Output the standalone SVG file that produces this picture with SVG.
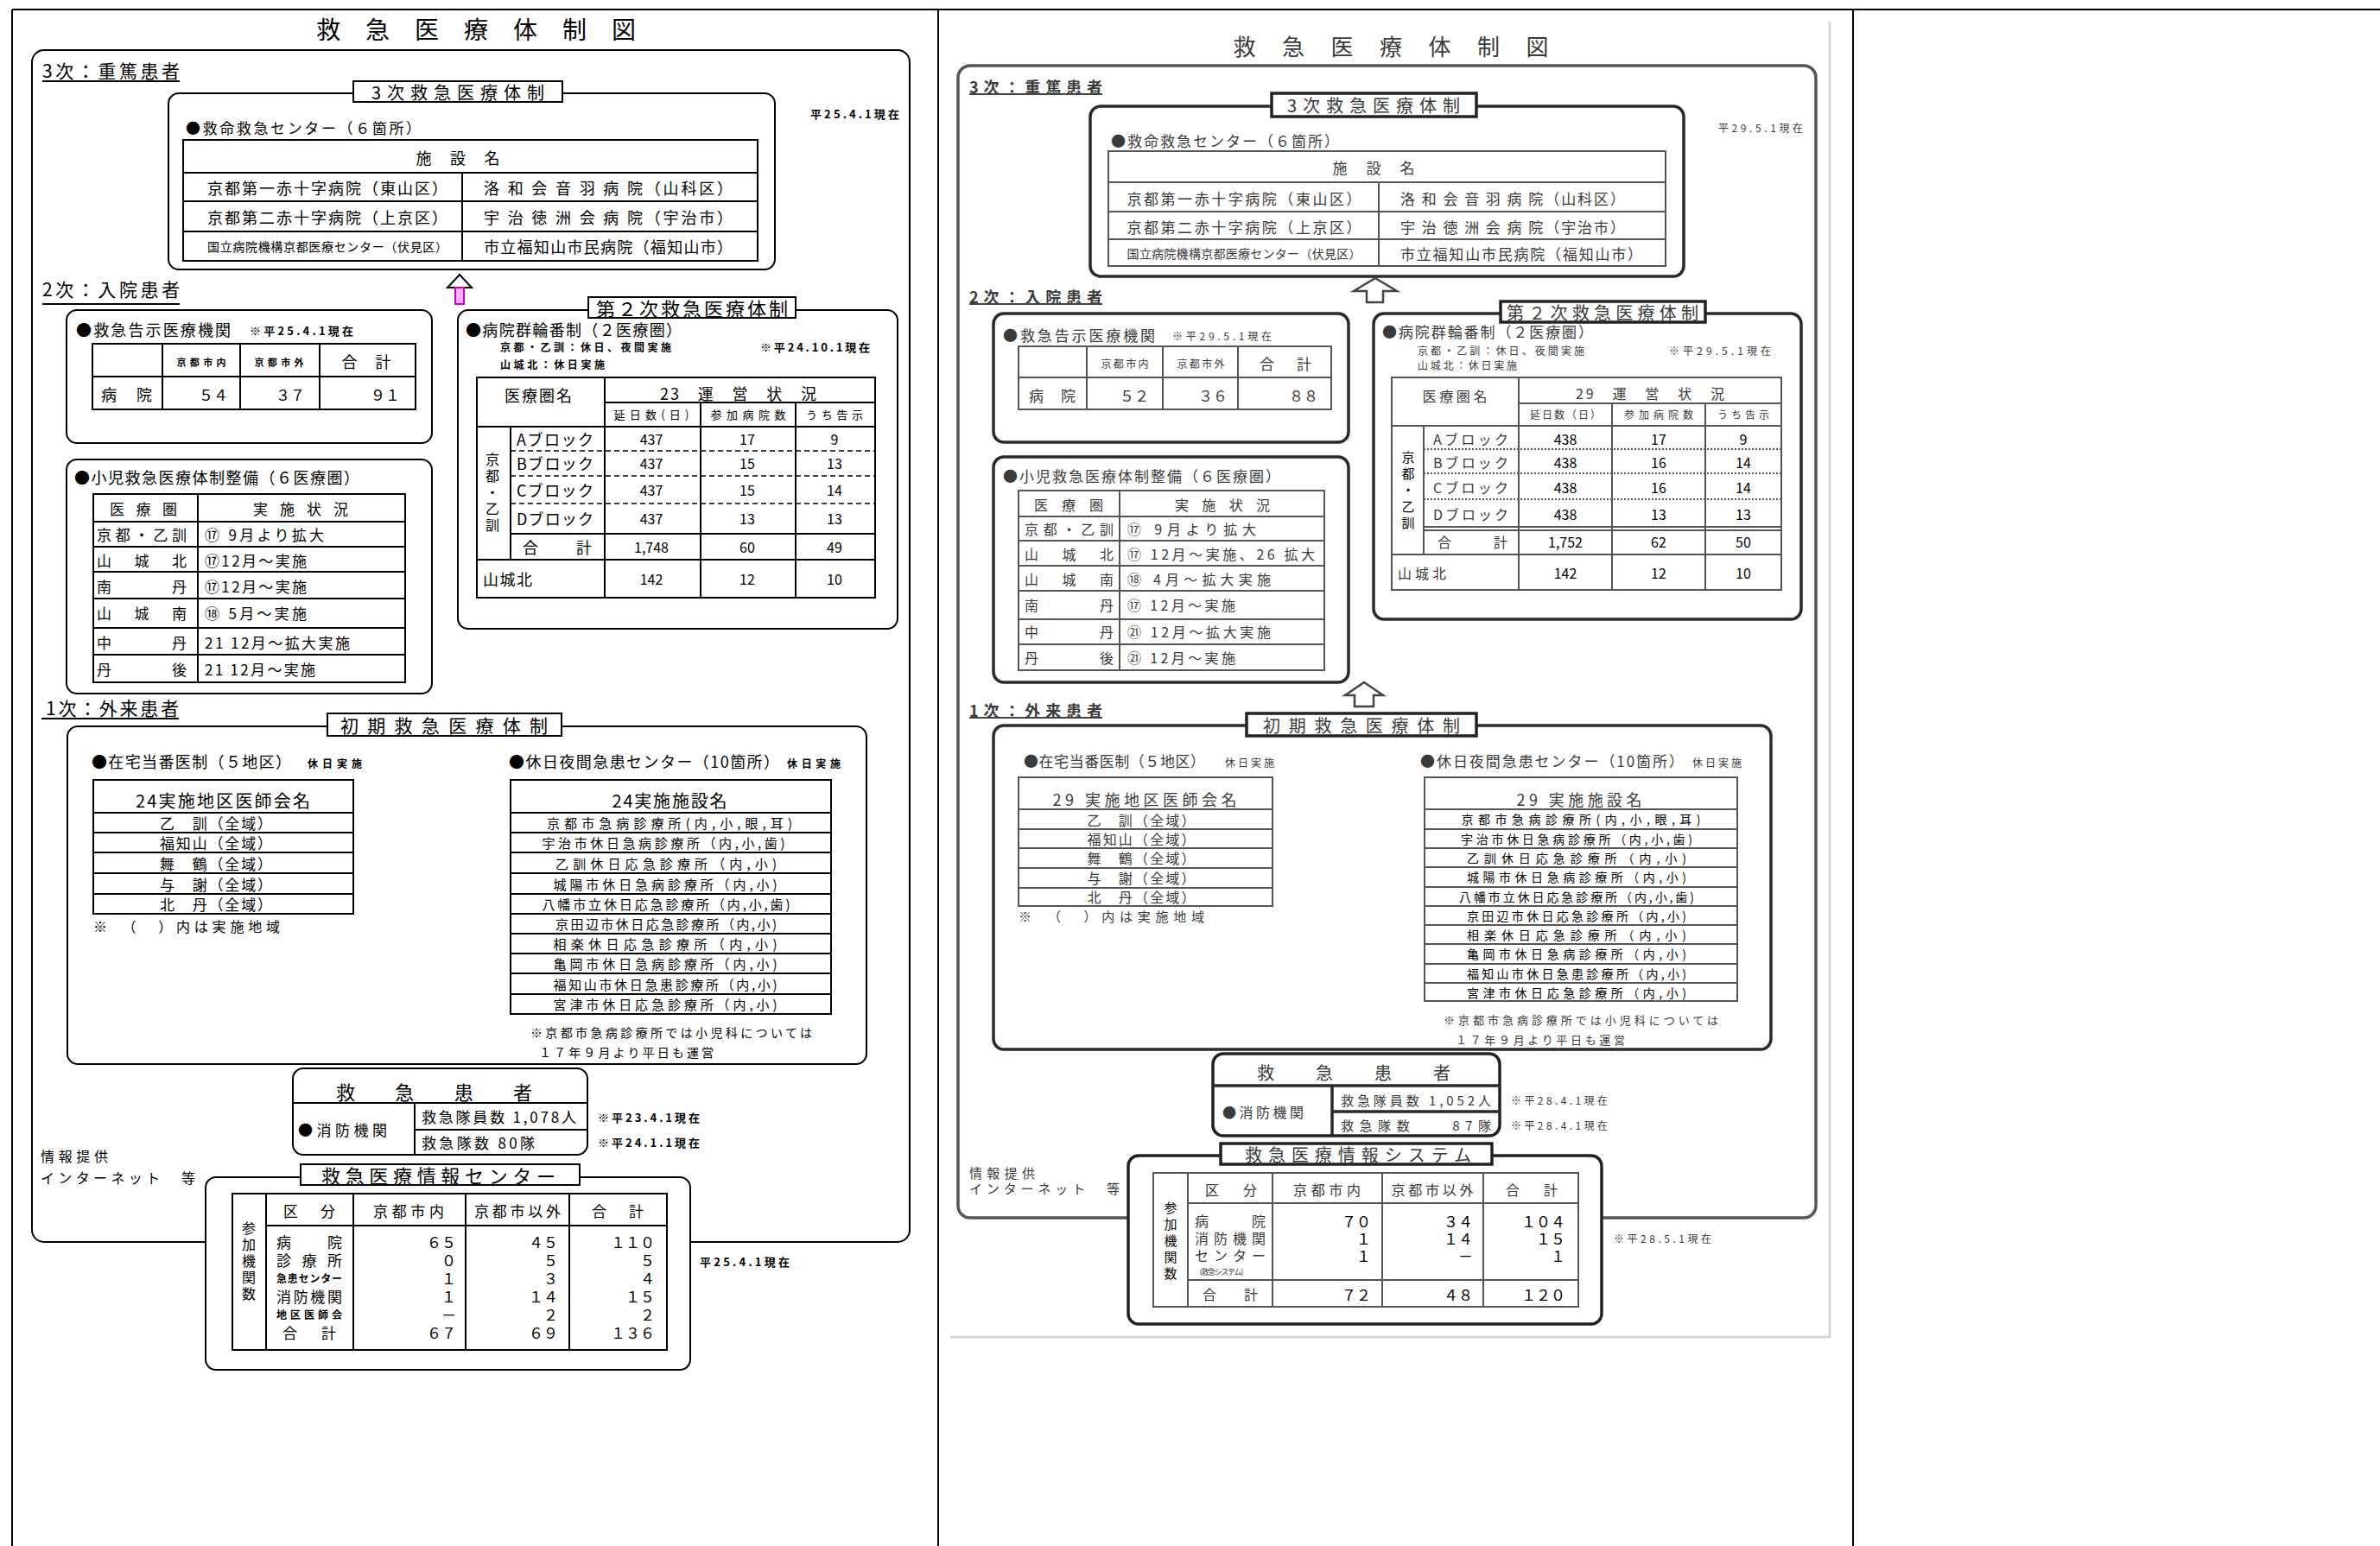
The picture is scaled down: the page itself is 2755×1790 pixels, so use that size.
<svg xmlns="http://www.w3.org/2000/svg" width="2755" height="1790" viewBox="0 0 2755 1790">
<style>
text{font-family:"Noto Sans CJK JP","Noto Sans",sans-serif;dominant-baseline:central;fill:#000}
.s{fill:#3a3a3a}
.b{font-weight:700}
.mid{text-anchor:middle}
.end{text-anchor:end}
.ln{stroke:#000;stroke-width:2;fill:none}
.fr{stroke:#000;stroke-width:2;fill:none}
.fw{fill:#fff;stroke:#000;stroke-width:2}
.dash{stroke:#000;stroke-width:1.5;stroke-dasharray:6 4;fill:none}
.sl{stroke:#555;stroke-width:2;fill:none}
.sf{stroke:#2a2a2a;stroke-width:3.5;fill:none}
.sfw{fill:#fff;stroke:#222;stroke-width:3.5}
.dot{stroke:#555;stroke-width:2;stroke-dasharray:2 2;fill:none}
</style>

<g id="page-grid" class="ln">
<line x1="14" y1="11" x2="2755" y2="11"/>
<line x1="14" y1="11" x2="14" y2="1790"/>
<line x1="1086" y1="11" x2="1086" y2="1790"/>
<line x1="2145" y1="11" x2="2145" y2="1790"/>
</g>

<!-- ================= LEFT PANEL ================= -->
<g id="left-title"><text x="551" y="33" class="mid" font-size="28" textLength="370">救　急　医　療　体　制　図</text></g>
<g id="left-outer-frame"><rect x="37" y="58" width="1016" height="1380" rx="14" class="fr"/></g>

<g id="left-tier3">
<text x="49" y="81" font-size="21" textLength="159">3次：重篤患者</text>
<line x1="49" y1="94" x2="208" y2="94" class="ln"/>
<rect x="195" y="108" width="702" height="204" rx="12" class="fr"/>
<rect x="409" y="94" width="242" height="24" class="fw"/>
<text x="530" y="106" class="mid" font-size="20" textLength="200">3次救急医療体制</text>
<text x="938" y="131" font-size="13" class="b" textLength="103">平25.4.1現在</text>
<text x="215" y="147" font-size="17" textLength="272">●救命救急センター（６箇所）</text>
<rect x="212" y="162" width="665" height="140" class="fr"/>
<path d="M212 200H877M212 233H877M212 268H877M535 200V302" class="ln"/>
<text x="530" y="182" class="mid" font-size="18" textLength="97">施　設　名</text>
<text x="240" y="217" font-size="18" textLength="278">京都第一赤十字病院（東山区）</text>
<text x="240" y="251" font-size="18" textLength="278">京都第二赤十字病院（上京区）</text>
<text x="240" y="285" font-size="14" textLength="278">国立病院機構京都医療センター（伏見区）</text>
<text x="560" y="217" font-size="18" textLength="288">洛 和 会 音 羽 病 院（山科区）</text>
<text x="560" y="251" font-size="18" textLength="288">宇 治 徳 洲 会 病 院（宇治市）</text>
<text x="560" y="285" font-size="18" textLength="288">市立福知山市民病院（福知山市）</text>
</g>

<g id="left-tier2-label">
<text x="49" y="334" font-size="21" textLength="159">2次：入院患者</text>
<line x1="49" y1="352" x2="208" y2="352" class="ln"/>
</g>

<g id="left-kokuji">
<rect x="77" y="359" width="423" height="154" rx="12" class="fr"/>
<text x="88" y="381" font-size="18" textLength="179">●救急告示医療機関</text>
<text x="289" y="382" font-size="13" class="b" textLength="120">※平25.4.1現在</text>
<rect x="107" y="398" width="374" height="76" class="fr"/>
<path d="M107 436H481M188 398V474M278 398V474M370 398V474" class="ln"/>
<text x="233" y="419" class="mid b" font-size="11" textLength="57">京都市内</text>
<text x="323" y="419" class="mid b" font-size="11" textLength="57">京都市外</text>
<text x="424" y="418" class="mid" font-size="18" textLength="57">合　計</text>
<text x="117" y="456" font-size="18" textLength="59">病　院</text>
<text x="264" y="456" class="end" font-size="17">５４</text>
<text x="353" y="456" class="end" font-size="17">３７</text>
<text x="463" y="456" class="end" font-size="17">９１</text>
</g>

<g id="left-shoni">
<rect x="77" y="532" width="423" height="271" rx="12" class="fr"/>
<text x="86" y="552" font-size="18" textLength="330">●小児救急医療体制整備（６医療圏）</text>
<rect x="108" y="572" width="361" height="218" class="fr"/>
<path d="M229 572V790M108 604H469M108 633H469M108 662H469M108 693H469M108 727H469M108 758H469" class="ln"/>
<text x="166" y="588" class="mid" font-size="17" textLength="78">医　療　圏</text>
<text x="348" y="588" class="mid" font-size="17" textLength="110">実　施　状　況</text>
<text x="112" y="618" font-size="17" textLength="104">京都・乙訓</text>
<text x="112" y="648" font-size="17" textLength="104">山　城　北</text>
<text x="112" y="678" font-size="17" textLength="104">南　　　丹</text>
<text x="112" y="709" font-size="17" textLength="104">山　城　南</text>
<text x="112" y="743" font-size="17" textLength="104">中　　　丹</text>
<text x="112" y="774" font-size="17" textLength="104">丹　　　後</text>
<text x="237" y="618" font-size="17" textLength="138">⑰ 9月より拡大</text>
<text x="237" y="648" font-size="17" textLength="118">⑰12月～実施</text>
<text x="237" y="678" font-size="17" textLength="118">⑰12月～実施</text>
<text x="237" y="709" font-size="17" textLength="118">⑱ 5月～実施</text>
<text x="237" y="743" font-size="17" textLength="168">21 12月～拡大実施</text>
<text x="237" y="774" font-size="17" textLength="128">21 12月～実施</text>
</g>

<g id="left-rinban">
<rect x="530" y="359" width="509" height="369" rx="12" class="fr"/>
<rect x="681" y="344" width="240" height="24" class="fw"/>
<text x="801" y="356" class="mid" font-size="22" textLength="222">第２次救急医療体制</text>
<text x="539" y="381" font-size="18" textLength="250">●病院群輪番制（２医療圏）</text>
<text x="579" y="401" font-size="12" class="b" textLength="198">京都・乙訓：休日、夜間実施</text>
<text x="880" y="401" font-size="13" class="b" textLength="127">※平24.10.1現在</text>
<text x="579" y="421" font-size="12" class="b" textLength="121">山城北：休日実施</text>
<rect x="552" y="437" width="461" height="255" class="fr"/>
<path d="M700 466H1013M552 494H1013M591 618H1013M552 648H1013M591 494V648M700 437V692M811 466V692M921 466V692" class="ln"/>
<path d="M591 522H1013M591 551H1013M591 583H1013" class="dash"/>
<text x="623" y="457" class="mid" font-size="18" textLength="78">医療圏名</text>
<text x="764" y="455" font-size="18" textLength="181">23　運　営　状　況</text>
<text x="754" y="479" class="mid" font-size="13" textLength="87">延日数(日)</text>
<text x="866" y="479" class="mid" font-size="13" textLength="87">参加病院数</text>
<text x="966" y="479" class="mid" font-size="13" textLength="66">うち告示</text>
<g class="mid" font-size="16">
<text x="570" y="531">京</text>
<text x="570" y="550">都</text>
<text x="570" y="569">・</text>
<text x="570" y="588">乙</text>
<text x="570" y="607">訓</text>
</g>
<text x="598" y="508" font-size="18" textLength="89">Aブロック</text>
<text x="598" y="536" font-size="18" textLength="89">Bブロック</text>
<text x="598" y="567" font-size="18" textLength="89">Cブロック</text>
<text x="598" y="600" font-size="18" textLength="89">Dブロック</text>
<text x="605" y="633" font-size="18" textLength="80">合　　計</text>
<text x="559" y="670" font-size="18" textLength="57">山城北</text>
<g class="mid" font-size="16">
<text x="754" y="508">437</text><text x="865" y="508">17</text><text x="966" y="508">9</text>
<text x="754" y="536">437</text><text x="865" y="536">15</text><text x="966" y="536">13</text>
<text x="754" y="567">437</text><text x="865" y="567">15</text><text x="966" y="567">14</text>
<text x="754" y="600">437</text><text x="865" y="600">13</text><text x="966" y="600">13</text>
<text x="754" y="633">1,748</text><text x="865" y="633">60</text><text x="966" y="633">49</text>
<text x="754" y="670">142</text><text x="865" y="670">12</text><text x="966" y="670">10</text>
</g>
</g>

<g id="left-tier1">
<text x="53" y="819" font-size="21" textLength="154">1次：外来患者</text>
<line x1="48" y1="832" x2="207" y2="832" class="ln"/>
<rect x="78" y="841" width="925" height="391" rx="12" class="fr"/>
<rect x="379" y="826" width="271" height="26" class="fw"/>
<text x="514" y="839" class="mid" font-size="21" textLength="240">初期救急医療体制</text>
<text x="106" y="881" font-size="18" textLength="231">●在宅当番医制（５地区）</text>
<text x="356" y="883" font-size="12" class="b" textLength="63">休日実施</text>
<text x="589" y="881" font-size="18" textLength="313">●休日夜間急患センター（10箇所）</text>
<text x="911" y="883" font-size="12" class="b" textLength="62">休日実施</text>
</g>

<g id="left-toban">
<rect x="108" y="903" width="301" height="155" class="fr"/>
<path d="M108 941H409M108 964H409M108 987H409M108 1011H409M108 1035H409" class="ln"/>
<text x="258" y="926" class="mid" font-size="20" textLength="202">24実施地区医師会名</text>
<text x="250" y="952" class="mid" font-size="17" textLength="130">乙　訓（全域）</text>
<text x="250" y="975" class="mid" font-size="17" textLength="130">福知山（全域）</text>
<text x="250" y="999" class="mid" font-size="17" textLength="130">舞　鶴（全域）</text>
<text x="250" y="1023" class="mid" font-size="17" textLength="130">与　謝（全域）</text>
<text x="250" y="1046" class="mid" font-size="17" textLength="130">北　丹（全域）</text>
<text x="108" y="1072" font-size="16" textLength="216">※　（　）内は実施地域</text>
</g>

<g id="left-kyujitsu">
<rect x="591" y="903" width="371" height="271" class="fr"/>
<path d="M591 941H962M591 964H962M591 987H962M591 1011H962M591 1035H962M591 1058H962M591 1081H962M591 1104H962M591 1127H962M591 1151H962" class="ln"/>
<text x="775" y="926" class="mid" font-size="20" textLength="133">24実施施設名</text>
<g class="mid" font-size="15">
<text x="775" y="952" textLength="284">京都市急病診療所(内,小,眼,耳)</text>
<text x="768" y="975" textLength="281">宇治市休日急病診療所（内,小,歯)</text>
<text x="771" y="999" textLength="256">乙訓休日応急診療所（内,小)</text>
<text x="770" y="1023" textLength="259">城陽市休日急病診療所（内,小)</text>
<text x="771" y="1046" textLength="287">八幡市立休日応急診療所（内,小,歯)</text>
<text x="771" y="1069" textLength="256">京田辺市休日応急診療所（内,小)</text>
<text x="770" y="1092" textLength="259">相楽休日応急診療所（内,小)</text>
<text x="770" y="1115" textLength="259">亀岡市休日急病診療所（内,小)</text>
<text x="770" y="1139" textLength="259">福知山市休日急患診療所（内,小)</text>
<text x="770" y="1162" textLength="259">宮津市休日応急診療所（内,小)</text>
</g>
<text x="614" y="1195" font-size="14" textLength="326">※京都市急病診療所では小児科については</text>
<text x="624" y="1218" font-size="14" textLength="202">１７年９月より平日も運営</text>
</g>

<g id="left-kyukyu-kanja">
<rect x="339" y="1237" width="341" height="100" rx="12" class="fw"/>
<path d="M339 1277H680M480 1277V1337M480 1308H680" class="ln"/>
<text x="389" y="1263" font-size="22" textLength="227">救　　急　　患　　者</text>
<text x="345" y="1307" font-size="17" textLength="103">●消防機関</text>
<text x="488" y="1292" font-size="17" textLength="179">救急隊員数 1,078人</text>
<text x="488" y="1322" font-size="17" textLength="131">救急隊数 80隊</text>
<text x="692" y="1293" font-size="13" class="b" textLength="118">※平23.4.1現在</text>
<text x="692" y="1322" font-size="13" class="b" textLength="118">※平24.1.1現在</text>
</g>

<g id="left-info-note">
<text x="47" y="1338" font-size="16" textLength="78">情報提供</text>
<text x="47" y="1363" font-size="16" textLength="179">インターネット　等</text>
</g>

<g id="left-info-center">
<rect x="238" y="1363" width="561" height="223" rx="12" class="fw"/>
<rect x="348" y="1348" width="323" height="24" class="fw"/>
<text x="372" y="1360" font-size="22" textLength="271">救急医療情報センター</text>
<text x="810" y="1460" font-size="13" class="b" textLength="104">平25.4.1現在</text>
<rect x="269" y="1382" width="503" height="181" class="fr"/>
<path d="M308 1419H772M308 1382V1563M409 1382V1563M539 1382V1563M659 1382V1563" class="ln"/>
<text x="358" y="1401" class="mid" font-size="17" textLength="60">区　分</text>
<text x="473" y="1401" class="mid" font-size="17" textLength="82">京都市内</text>
<text x="599" y="1401" class="mid" font-size="17" textLength="100">京都市以外</text>
<text x="715" y="1401" class="mid" font-size="17" textLength="60">合　計</text>
<g class="mid" font-size="16">
<text x="288" y="1421">参</text><text x="288" y="1440">加</text><text x="288" y="1459">機</text><text x="288" y="1478">関</text><text x="288" y="1497">数</text>
</g>
<text x="320" y="1437" font-size="17" textLength="76">病　　院</text>
<text x="320" y="1458" font-size="17" textLength="76">診　療　所</text>
<text x="320" y="1479" font-size="12" class="b" textLength="76">急患センター</text>
<text x="320" y="1500" font-size="17" textLength="76">消防機関</text>
<text x="320" y="1521" font-size="12" class="b" textLength="76">地区医師会</text>
<text x="327" y="1542" font-size="17" textLength="62">合　計</text>
<g class="end" font-size="17">
<text x="528" y="1437">６５</text><text x="646" y="1437">４５</text><text x="758" y="1437">１１０</text>
<text x="528" y="1458">０</text><text x="646" y="1458">５</text><text x="758" y="1458">５</text>
<text x="528" y="1479">１</text><text x="646" y="1479">３</text><text x="758" y="1479">４</text>
<text x="528" y="1500">１</text><text x="646" y="1500">１４</text><text x="758" y="1500">１５</text>
<text x="528" y="1521">－</text><text x="646" y="1521">２</text><text x="758" y="1521">２</text>
<text x="528" y="1542">６７</text><text x="646" y="1542">６９</text><text x="758" y="1542">１３６</text>
</g>
</g>

<!-- ================= MIDDLE PANEL (scanned copy) ================= -->
<g id="mid-scan-frame">
<path d="M2118 25V1548H1100" stroke="#d6d6d6" stroke-width="3" fill="none"/>
</g>
<g id="mid-title"><text x="1610" y="52" class="mid s" font-size="26" textLength="365">救　急　医　療　体　制　図</text></g>
<g id="mid-outer-frame"><rect x="1109" y="76" width="993" height="1334" rx="14" stroke="#555" stroke-width="3.5" fill="none"/></g>

<g id="mid-tier3">
<text x="1122" y="100" class="s b" font-size="18" textLength="154">3次：重篤患者</text>
<line x1="1122" y1="109" x2="1276" y2="109" stroke="#444" stroke-width="2"/>
<rect x="1262" y="123" width="687" height="197" rx="12" class="sf"/>
<rect x="1472" y="108" width="237" height="27" class="sfw"/>
<text x="1590" y="121" class="mid s" font-size="20" textLength="200">3次救急医療体制</text>
<text x="1989" y="147" class="s" font-size="12" textLength="98">平29.5.1現在</text>
<text x="1286" y="162" class="s" font-size="17" textLength="264">●救命救急センター（６箇所）</text>
<rect x="1283" y="175" width="645" height="133" class="sl"/>
<path d="M1283 211H1928M1283 245H1928M1283 277H1928M1596 211V308" class="sl"/>
<text x="1590" y="193" class="mid s" font-size="17" textLength="95">施　設　名</text>
<text x="1440" y="229" class="mid s" font-size="17" textLength="271">京都第一赤十字病院（東山区）</text>
<text x="1440" y="262" class="mid s" font-size="17" textLength="271">京都第二赤十字病院（上京区）</text>
<text x="1440" y="293" class="mid s" font-size="14" textLength="271">国立病院機構京都医療センター（伏見区）</text>
<text x="1751" y="229" class="mid s" font-size="17" textLength="260">洛 和 会 音 羽 病 院（山科区）</text>
<text x="1751" y="262" class="mid s" font-size="17" textLength="260">宇 治 徳 洲 会 病 院（宇治市）</text>
<text x="1761" y="293" class="mid s" font-size="17" textLength="280">市立福知山市民病院（福知山市）</text>
</g>

<g id="mid-tier2-label">
<text x="1122" y="343" class="s b" font-size="18" textLength="154">2次：入院患者</text>
<line x1="1122" y1="352" x2="1276" y2="352" stroke="#444" stroke-width="2"/>
</g>

<g id="mid-kokuji">
<rect x="1150" y="363" width="411" height="149" rx="12" class="sf"/>
<text x="1161" y="387" class="s" font-size="17" textLength="176">●救急告示医療機関</text>
<text x="1357" y="388" class="s" font-size="12" textLength="115">※平29.5.1現在</text>
<rect x="1179" y="401" width="362" height="73" class="sl"/>
<path d="M1179 437H1541M1258 401V474M1346 401V474M1433 401V474" class="sl"/>
<text x="1302" y="420" class="mid s" font-size="12" textLength="55">京都市内</text>
<text x="1390" y="420" class="mid s" font-size="12" textLength="55">京都市外</text>
<text x="1488" y="420" class="mid s" font-size="17" textLength="60">合　計</text>
<text x="1191" y="457" class="s" font-size="17" textLength="54">病　院</text>
<text x="1330" y="457" class="end s" font-size="17">５２</text>
<text x="1421" y="457" class="end s" font-size="17">３６</text>
<text x="1526" y="457" class="end s" font-size="17">８８</text>
</g>

<g id="mid-shoni">
<rect x="1150" y="529" width="411" height="261" rx="12" class="sf"/>
<text x="1161" y="550" class="s" font-size="17" textLength="321">●小児救急医療体制整備（６医療圏）</text>
<rect x="1179" y="568" width="354" height="208" class="sl"/>
<path d="M1296 568V776M1179 598H1533M1179 626H1533M1179 655H1533M1179 684H1533M1179 717H1533M1179 746H1533" class="sl"/>
<text x="1237" y="584" class="mid s" font-size="16" textLength="80">医　療　圏</text>
<text x="1415" y="584" class="mid s" font-size="16" textLength="110">実　施　状　況</text>
<text x="1186" y="612" class="s" font-size="16" textLength="103">京都・乙訓</text>
<text x="1186" y="641" class="s" font-size="16" textLength="103">山　城　北</text>
<text x="1186" y="670" class="s" font-size="16" textLength="103">山　城　南</text>
<text x="1186" y="700" class="s" font-size="16" textLength="103">南　　　丹</text>
<text x="1186" y="731" class="s" font-size="16" textLength="103">中　　　丹</text>
<text x="1186" y="761" class="s" font-size="16" textLength="103">丹　　　後</text>
<text x="1305" y="612" class="s" font-size="16" textLength="149">⑰ 9月より拡大</text>
<text x="1305" y="641" class="s" font-size="16" textLength="217">⑰ 12月～実施、26 拡大</text>
<text x="1305" y="670" class="s" font-size="16" textLength="166">⑱ 4月～拡大実施</text>
<text x="1305" y="700" class="s" font-size="16" textLength="125">⑰ 12月～実施</text>
<text x="1305" y="731" class="s" font-size="16" textLength="166">㉑ 12月～拡大実施</text>
<text x="1305" y="761" class="s" font-size="16" textLength="125">㉑ 12月～実施</text>
</g>

<g id="mid-rinban">
<rect x="1590" y="363" width="495" height="354" rx="12" class="sf"/>
<rect x="1737" y="349" width="237" height="24" class="sfw"/>
<text x="1855" y="361" class="mid s" font-size="20" textLength="222">第２次救急医療体制</text>
<text x="1600" y="383" class="s" font-size="17" textLength="244">●病院群輪番制（２医療圏）</text>
<text x="1641" y="405" class="s" font-size="12" textLength="193">京都・乙訓：休日、夜間実施</text>
<text x="1932" y="405" class="s" font-size="12" textLength="118">※平29.5.1現在</text>
<text x="1641" y="422" class="s" font-size="12" textLength="115">山城北：休日実施</text>
<rect x="1611" y="437" width="451" height="246" class="sl"/>
<path d="M1758 467H2062M1611 493H2062M1648 610H2062M1648 614H2062M1611 642H2062M1648 493V642M1758 437V683M1866 467V683M1974 467V683" class="sl"/>
<path d="M1648 520H2062M1648 548H2062M1648 578H2062" class="dot"/>
<text x="1684" y="458" class="mid s" font-size="16" textLength="75">医療圏名</text>
<text x="1824" y="455" class="s" font-size="16" textLength="172">29　運　営　状　況</text>
<text x="1812" y="479" class="mid s" font-size="12" textLength="82">延日数（日）</text>
<text x="1920" y="479" class="mid s" font-size="12" textLength="80">参加病院数</text>
<text x="2018" y="479" class="mid s" font-size="12" textLength="60">うち告示</text>
<g class="mid s" font-size="15">
<text x="1630" y="528">京</text><text x="1630" y="547">都</text><text x="1630" y="566">・</text><text x="1630" y="585">乙</text><text x="1630" y="604">訓</text>
</g>
<text x="1659" y="508" class="s" font-size="16" textLength="87">Aブロック</text>
<text x="1659" y="535" class="s" font-size="16" textLength="87">Bブロック</text>
<text x="1659" y="564" class="s" font-size="16" textLength="87">Cブロック</text>
<text x="1659" y="595" class="s" font-size="16" textLength="87">Dブロック</text>
<text x="1664" y="627" class="s" font-size="16" textLength="81">合　　計</text>
<text x="1618" y="663" class="s" font-size="16" textLength="56">山城北</text>
<g class="mid s" font-size="16">
<text x="1812" y="508">438</text><text x="1920" y="508">17</text><text x="2018" y="508">9</text>
<text x="1812" y="535">438</text><text x="1920" y="535">16</text><text x="2018" y="535">14</text>
<text x="1812" y="564">438</text><text x="1920" y="564">16</text><text x="2018" y="564">14</text>
<text x="1812" y="595">438</text><text x="1920" y="595">13</text><text x="2018" y="595">13</text>
<text x="1812" y="627">1,752</text><text x="1920" y="627">62</text><text x="2018" y="627">50</text>
<text x="1812" y="663">142</text><text x="1920" y="663">12</text><text x="2018" y="663">10</text>
</g>
</g>

<g id="mid-tier1">
<text x="1122" y="822" class="s b" font-size="18" textLength="154">1次：外来患者</text>
<line x1="1122" y1="831" x2="1276" y2="831" stroke="#444" stroke-width="2"/>
<rect x="1150" y="840" width="900" height="375" rx="12" class="sf"/>
<rect x="1443" y="826" width="266" height="26" class="sfw"/>
<text x="1576" y="839" class="mid s" font-size="20" textLength="228">初期救急医療体制</text>
<text x="1185" y="880" class="s" font-size="17" textLength="210">●在宅当番医制（５地区）</text>
<text x="1418" y="882" class="s" font-size="12" textLength="57">休日実施</text>
<text x="1644" y="880" class="s" font-size="17" textLength="305">●休日夜間急患センター（10箇所）</text>
<text x="1959" y="882" class="s" font-size="12" textLength="57">休日実施</text>
</g>

<g id="mid-toban">
<rect x="1179" y="900" width="294" height="149" class="sl"/>
<path d="M1179 937H1473M1179 960H1473M1179 982H1473M1179 1005H1473M1179 1028H1473" class="sl"/>
<text x="1325" y="925" class="mid s" font-size="18" textLength="213">29 実施地区医師会名</text>
<text x="1321" y="949" class="mid s" font-size="16" textLength="125">乙　訓（全域）</text>
<text x="1321" y="971" class="mid s" font-size="16" textLength="125">福知山（全域）</text>
<text x="1321" y="993" class="mid s" font-size="16" textLength="125">舞　鶴（全域）</text>
<text x="1321" y="1016" class="mid s" font-size="16" textLength="125">与　謝（全域）</text>
<text x="1321" y="1038" class="mid s" font-size="16" textLength="125">北　丹（全域）</text>
<text x="1179" y="1060" class="s" font-size="15" textLength="215">※　（　）内は実施地域</text>
</g>

<g id="mid-kyujitsu">
<rect x="1649" y="900" width="362" height="259" class="sl"/>
<path d="M1649 937H2011M1649 960H2011M1649 982H2011M1649 1004H2011M1649 1027H2011M1649 1049H2011M1649 1071H2011M1649 1093H2011M1649 1116H2011M1649 1138H2011" class="sl"/>
<text x="1828" y="925" class="mid s" font-size="18" textLength="145">29 実施施設名</text>
<g class="mid s" font-size="14">
<text x="1830" y="948" textLength="277">京都市急病診療所(内,小,眼,耳)</text>
<text x="1825" y="971" textLength="268">宇治市休日急病診療所（内,小,歯)</text>
<text x="1825" y="993" textLength="254">乙訓休日応急診療所（内,小)</text>
<text x="1825" y="1015" textLength="254">城陽市休日急病診療所（内,小)</text>
<text x="1825" y="1038" textLength="272">八幡市立休日応急診療所（内,小,歯)</text>
<text x="1825" y="1060" textLength="254">京田辺市休日応急診療所（内,小)</text>
<text x="1825" y="1082" textLength="254">相楽休日応急診療所（内,小)</text>
<text x="1825" y="1104" textLength="254">亀岡市休日急病診療所（内,小)</text>
<text x="1825" y="1127" textLength="254">福知山市休日急患診療所（内,小)</text>
<text x="1825" y="1149" textLength="254">宮津市休日応急診療所（内,小)</text>
</g>
<text x="1671" y="1180" class="s" font-size="13" textLength="318">※京都市急病診療所では小児科については</text>
<text x="1685" y="1203" class="s" font-size="13" textLength="196">１７年９月より平日も運営</text>
</g>

<g id="mid-kyukyu-kanja">
<rect x="1404" y="1220" width="332" height="95" rx="12" class="sfw"/>
<path d="M1404 1257H1736M1542 1257V1315M1542 1287H1736" class="sf"/>
<text x="1455" y="1241" class="s" font-size="20" textLength="224">救　　急　　患　　者</text>
<text x="1415" y="1287" class="s" font-size="16" textLength="94">●消防機関</text>
<text x="1552" y="1273" class="s" font-size="15" textLength="174">救急隊員数 1,052人</text>
<text x="1552" y="1302" class="s" font-size="15" textLength="174">救急隊数　　87隊</text>
<text x="1749" y="1273" class="s" font-size="12" textLength="112">※平28.4.1現在</text>
<text x="1749" y="1302" class="s" font-size="12" textLength="112">※平28.4.1現在</text>
</g>

<g id="mid-info-note">
<text x="1122" y="1357" class="s" font-size="15" textLength="76">情報提供</text>
<text x="1122" y="1375" class="s" font-size="15" textLength="174">インターネット　等</text>
</g>

<g id="mid-info-system">
<rect x="1306" y="1338" width="548" height="195" rx="12" class="sfw"/>
<rect x="1413" y="1324" width="314" height="24" class="sfw"/>
<text x="1572" y="1336" class="mid s" font-size="20" textLength="262">救急医療情報システム</text>
<text x="1868" y="1433" class="s" font-size="12" textLength="113">※平28.5.1現在</text>
<rect x="1335" y="1358" width="492" height="155" class="sl"/>
<path d="M1375 1393H1827M1375 1482H1827M1375 1358V1513M1473 1358V1513M1600 1358V1513M1717 1358V1513" class="sl"/>
<text x="1425" y="1377" class="mid s" font-size="16" textLength="60">区　分</text>
<text x="1536" y="1377" class="mid s" font-size="16" textLength="78">京都市内</text>
<text x="1658" y="1377" class="mid s" font-size="16" textLength="95">京都市以外</text>
<text x="1773" y="1377" class="mid s" font-size="16" textLength="60">合　計</text>
<g class="mid s" font-size="15">
<text x="1355" y="1397">参</text><text x="1355" y="1416">加</text><text x="1355" y="1435">機</text><text x="1355" y="1454">関</text><text x="1355" y="1473">数</text>
</g>
<text x="1383" y="1413" class="s" font-size="16" textLength="82">病　　院</text>
<text x="1383" y="1433" class="s" font-size="16" textLength="82">消防機関</text>
<text x="1383" y="1453" class="s" font-size="16" textLength="82">センター</text>
<text x="1383" y="1472" class="s" font-size="9" textLength="62">（救急システム）</text>
<text x="1392" y="1498" class="s" font-size="16" textLength="64">合　計</text>
<g class="end s" font-size="17">
<text x="1587" y="1413">７０</text><text x="1705" y="1413">３４</text><text x="1812" y="1413">１０４</text>
<text x="1587" y="1433">１</text><text x="1705" y="1433">１４</text><text x="1812" y="1433">１５</text>
<text x="1587" y="1453">１</text><text x="1705" y="1453">－</text><text x="1812" y="1453">１</text>
<text x="1587" y="1498">７２</text><text x="1705" y="1498">４８</text><text x="1812" y="1498">１２０</text>
</g>
</g>

<!-- ================= CONNECTORS ================= -->
<g id="connectors">
<path d="M532 318L546 333H518Z" fill="#fff" stroke="#000" stroke-width="2"/>
<rect x="527" y="333" width="10" height="19" fill="#ffb3ff" stroke="#cc00cc" stroke-width="2"/>
<path d="M1592 322L1617 337H1601V350H1582V337H1567Z" fill="#fff" stroke="#444" stroke-width="2.5"/>
<path d="M1579 790L1601 805H1590V818H1568V805H1557Z" fill="#fff" stroke="#444" stroke-width="2.5"/>
</g>
</svg>
